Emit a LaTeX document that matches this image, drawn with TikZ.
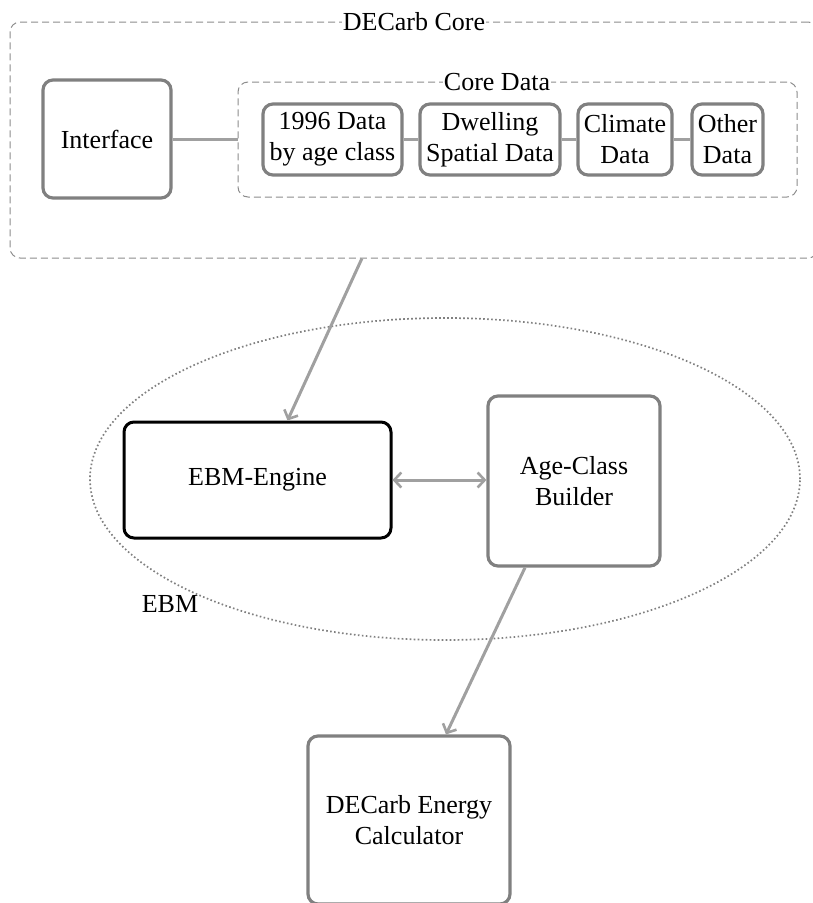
\documentclass[tikz,border=0pt]{standalone}
\usepackage{fontspec}
\setmainfont{Liberation Serif}
\usetikzlibrary{arrows.meta,shapes.geometric,calc}
\definecolor{boxgray}{RGB}{128,128,128}
\definecolor{linegray}{RGB}{160,160,160}
\definecolor{dashgray}{RGB}{140,140,140}
\begin{document}
\begin{tikzpicture}[x=1pt,y=-1pt,
  every node/.style={font=\fontsize{26}{31}\selectfont},
  gbox/.style={draw=boxgray,line width=3.2pt,rounded corners=10pt,align=center,inner sep=0pt},
  bbox/.style={draw=black,line width=3pt,rounded corners=10pt,align=center,inner sep=0pt},
  group/.style={draw=dashgray,line width=1pt,dash pattern=on 7pt off 4pt,rounded corners=10pt,inner sep=0pt},
  glabel/.style={fill=white,inner sep=1pt},
  conn/.style={draw=linegray,line width=3pt},
  arr/.style={conn,-{Straight Barb[length=7pt,width=15pt,line width=2.6pt]}},
  darr/.style={conn,{Straight Barb[length=7pt,width=15pt,line width=2.6pt]}-{Straight Barb[length=7pt,width=15pt,line width=2.6pt]}}
]
\useasboundingbox (0,0) rectangle (812,903);
% groups
\node[group,minimum width=808pt,minimum height=236pt] (core) at (414,140) {};
\node[glabel] (corelab) at (414,22) {DECarb Core};
\node[group,minimum width=559pt,minimum height=115pt] (coredata) at (517.5,139.5) {};
\node[glabel] (cdlab) at (497,82) {Core Data};
% ellipse
\node[ellipse,draw=boxgray,line width=1.7pt,dash pattern=on 1.6pt off 2.4pt,minimum width=710pt,minimum height=322pt,inner sep=0pt] (ebm) at (445,479) {};
\node (ebmlab) at (170,604) {EBM};
% boxes
\node[gbox,minimum width=128pt,minimum height=118pt] (interface) at (107,139) {Interface};
\node[gbox,minimum width=139pt,minimum height=71pt] (d1996) at (332.5,139.5) {1996 Data\\by age class};
\node[gbox,minimum width=140pt,minimum height=71pt] (dwell) at (490,139.5) {Dwelling\\Spatial Data};
\node[gbox,minimum width=94pt,minimum height=71pt] (clim) at (625,139.5) {Climate\\Data};
\node[gbox,minimum width=71pt,minimum height=71pt] (other) at (727.5,139.5) {Other\\Data};
\node[bbox,minimum width=267pt,minimum height=116pt] (engine) at (257.5,480) {EBM-Engine};
\node[gbox,minimum width=172pt,minimum height=170pt] (builder) at (574,481) {Age-Class\\Builder};
\node[gbox,minimum width=202pt,minimum height=168pt] (calc) at (409,820) {DECarb Energy\\Calculator};
% connectors
\draw[conn] (interface.east) -- (coredata.west |- interface.east);
\draw[conn] (d1996) -- (dwell);
\draw[conn] (dwell) -- (clim);
\draw[conn] (clim) -- (other);
\coordinate (cs) at ($(core.south west)!0.4356!(core.south east)$);
\draw[arr] (cs) -- ([xshift=30pt]engine.north);
\draw[darr] (engine.east) -- (builder.west |- engine.east);
\draw[arr] ([xshift=-49pt]builder.south) -- ([xshift=37pt]calc.north);
\end{tikzpicture}
\end{document}
